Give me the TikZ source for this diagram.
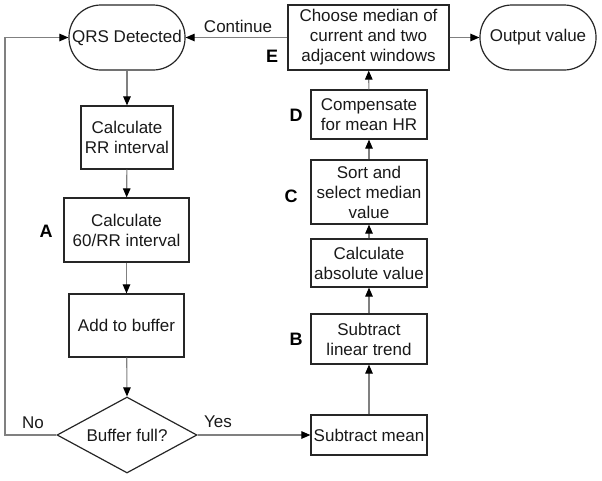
\documentclass[tikz,border=0pt]{standalone}
\usepackage{fontspec}
\setmainfont{Liberation Sans}
\usetikzlibrary{arrows.meta,shapes.geometric}
\definecolor{linegray}{HTML}{808080}
\definecolor{boxline}{HTML}{262626}
\begin{document}
\begin{tikzpicture}[x=1pt,y=-1pt,
  every node/.style={font=\fontsize{17}{20}\selectfont, text=black!90},
  procbox/.style={draw=boxline, line width=1.2pt, align=center, inner sep=0pt},
  term/.style={draw=boxline, line width=1.2pt, rounded corners=32pt, minimum width=116pt, minimum height=65pt, inner sep=0pt},
  decis/.style={draw=boxline, line width=1.2pt, diamond, aspect=1.84, inner sep=0pt, minimum width=140pt, minimum height=76pt},
  conn/.style={draw=linegray, line width=1.1pt, -{Triangle[black,length=9pt,width=7.5pt]}},
  tag/.style={font=\fontsize{18}{20}\bfseries\selectfont, text=black}
]
\useasboundingbox (0,0) rectangle (602,480);

% left column
\node[term] (qrs) at (127,37.5) {QRS Detected};
\node[procbox, minimum width=92pt, minimum height=63pt] (rr) at (127,137.5) {Calculate\\RR interval};
\node[procbox, minimum width=125pt, minimum height=64pt] (a60) at (126.5,230) {Calculate\\60/RR interval};
\node[procbox, minimum width=115pt, minimum height=63pt] (buf) at (126.5,325.5) {Add to buffer};
\node[decis] (bf) at (127,435) {Buffer full?};

% right column
\node[procbox, minimum width=116pt, minimum height=40pt] (sm) at (369,435) {Subtract mean};
\node[procbox, minimum width=116pt, minimum height=50pt] (slt) at (369,339) {Subtract\\linear trend};
\node[procbox, minimum width=116pt, minimum height=48pt] (abs) at (369,263) {Calculate\\absolute value};
\node[procbox, minimum width=116pt, minimum height=64pt] (sort) at (369,192) {Sort and\\select median\\value};
\node[procbox, minimum width=116pt, minimum height=49pt] (comp) at (369,114.5) {Compensate\\for mean HR};
\node[procbox, minimum width=161pt, minimum height=65pt] (choose) at (368.5,37.5) {Choose median of\\current and two\\adjacent windows};
\node[term] (out) at (538,37.5) {Output value};

% letter tags
\node[tag] (tA) at (46,231) {A};
\node[tag] (tB) at (296,339) {B};
\node[tag] (tC) at (291,196) {C};
\node[tag] (tD) at (296,115) {D};
\node[tag] (tE) at (272,56) {E};

% connectors
\draw[conn] (qrs) -- (rr);
\draw[conn] (rr) -- (a60);
\draw[conn] (a60) -- (buf);
\draw[conn] (buf) -- (bf.north);
\coordinate (lb) at (5,435);
\coordinate (lt) at (5,37.5);
\draw[conn] (bf.west) -- (lb) -- (lt) -- (qrs.west);
\node (no) at (33,423) {No};
\draw[conn] (bf.east) -- (sm.west);
\node (yes) at (218,422) {Yes};
\draw[conn] (sm) -- (slt);
\draw[conn] (slt) -- (abs);
\draw[conn] (abs) -- (sort);
\draw[conn] (sort) -- (comp);
\draw[conn] (comp) -- (choose);
\draw[conn] (choose.west) -- (qrs.east);
\node (cont) at (238,26) {Continue};
\draw[conn] (choose.east) -- (out.west);
\end{tikzpicture}
\end{document}
